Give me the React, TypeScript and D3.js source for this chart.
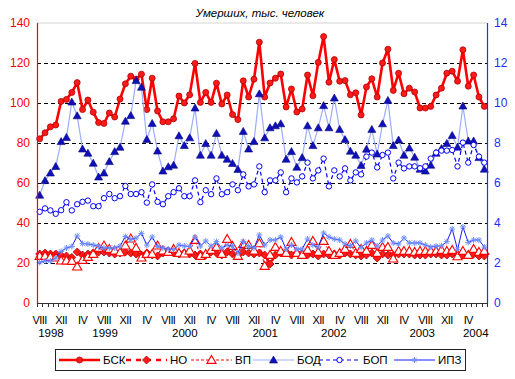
import React from "react";
import * as d3 from "d3";

// ---- data ----
const BSK = [
  82.1, 85.1, 88.1, 89, 100.8, 101.8, 105.3, 110.2, 96.7, 101.5, 95.4, 90.2, 89.8, 95, 93, 102, 109.6, 113.4, 111.9, 114.4, 96.7, 112.4,
  96, 90.6, 90.6, 92.1, 103.5, 100, 104.1, 119.8, 100.3, 105.3, 100.3, 109.9, 99.5, 104, 94.2, 91.7, 111.1, 103, 111.9, 130.4,
  103, 110, 112.4, 114.5, 98, 107, 95.5, 97, 114, 103.6, 120.3, 133.2, 110.4, 121.7, 110.9, 111.2, 104.1, 105.1, 94, 108, 112.1, 103,
  120, 126.9, 106.3, 114.9, 104.6, 107.4, 105.5, 97.5, 97.5, 98.3, 104, 107.4, 114.9, 115.9, 110.9, 126.6, 108.4, 114, 103, 98.3,
];
const NO = [
  24.5, 25, 24.5, 24.5, 24, 23.5, 22.8, 25.5, 24, 24.5,
  25, 25.5, 25.5, 25, 24.5, 25, 25.5, 25, 24.5, 24,
  25, 24, 23.5, 25, 26, 25, 24.5, 25, 24.5, 24,
  24.5, 24, 25.5, 25, 24, 25.5, 24.5, 24, 25.5, 25,
  24.5, 25, 24, 19.5, 24, 25, 25.5, 24, 25, 24.5,
  24, 24.5, 23.5, 24.5, 24, 24.5, 24, 25, 24.5, 24,
  23.5, 24, 25, 22.5, 24.5, 24, 24, 24.5, 24.5, 24.5,
  24, 24, 24, 24.5, 24.5, 24, 24, 24.5, 24.5, 24,
  24, 24.5, 23.5, 23.5,
];
const VP = [
  23.5, 23.5, 23, 22.7, 21.2, 21.2, 21, 18.2, 21.5, 23, 24.5, 27.5, 28.7, 27, 26.2, 25.3, 28.7, 32.2, 27.5, 22.7, 24.5,
  24.5, 28.7, 26.2, 25.5, 27, 25, 24.7, 26.2, 31.5, 23.5, 24.5, 26.5, 28, 24.5, 32, 28.5, 23.5, 29.5, 29, 26.2, 29.8,
  18.5, 24, 28, 26, 25, 30.5, 25, 24, 26.5, 31, 25.5, 31, 26, 24, 25, 27, 29.5, 25, 27, 26, 29,
  25, 28, 28, 22.2, 26, 26, 26, 25.5, 26, 26, 26, 26, 26.5, 26, 26.5, 23.3, 26, 24, 27, 25.5, 26,
];
const BOD = [
  5.39, 6.12, 6.5, 6.83, 8.07, 8.28, 10.05, 9.36, 7.7, 7.49, 6.99, 6.3, 6.5, 7.07, 7.57, 7.79, 9.09, 9.37, 11.12, 10.79, 8.18, 8.98,
  7.6, 6.6, 6.81, 6.89, 8.36, 7.87, 8.26, 9.75, 7.39, 7.97, 7.39, 8.48, 7.39, 7.19, 6.98, 6.68, 8.58, 7.7, 8.08, 10.46,
  8.26, 8.76, 8.86, 8.96, 7.19, 7.57, 6.79, 7.27, 8.86, 7.87, 8.76, 9.87, 8.76, 10.25, 8.68, 8.17, 7.59, 7.39, 6.88, 7.69, 8.68, 7.45,
  8.96, 10.13, 7.87, 8.15, 7.39, 7.75, 7.29, 6.69, 6.6, 6.89, 7.49, 7.72, 7.98, 8.38, 7.79, 9.85, 8.1, 8.1, 7.27, 6.69,
];
const BOP = [
  4.56, 4.73, 4.63, 4.46, 4.64, 5.04, 4.63, 4.94, 5.06, 5.12, 4.84, 4.84, 5.24, 5.45, 5.24, 5.34, 5.85, 5.45, 5.45, 5.54, 5.02, 5.93,
  5.06, 4.94, 5.34, 5.54, 5.74, 5.34, 5.34, 6.13, 5.04, 5.64, 5.44, 6.23, 5.44, 5.54, 5.93, 5.64, 6.43, 5.83, 5.93, 6.83,
  5.54, 6.13, 6.13, 6.53, 5.54, 6.23, 6.03, 6.33, 7.02, 6.23, 6.63, 7.22, 5.83, 6.63, 6.33, 6.73, 6.13, 6.53, 6.43, 7.32, 7.52, 6.78,
  7.4, 7.52, 6.23, 7.02, 6.73, 6.83, 6.83, 6.74, 6.83, 7.22, 7.52, 7.62, 7.62, 7.65, 6.83, 8.02, 7.02, 7.9, 7.32, 7.02,
];
const IPZ = [
  2.03, 2.1, 2.1, 2.25, 2.58, 2.75, 2.83, 3.35, 2.97, 2.95, 2.9, 2.82, 2.75, 2.75, 2.75, 2.85, 3.32, 3.18, 3.25, 3.48, 2.9,
  3.3, 2.83, 2.75, 2.7, 2.67, 2.9, 2.85, 2.83, 3.3, 2.85, 3.1, 2.85, 3.07, 2.75, 2.9, 2.83, 2.5, 3.07, 2.83, 2.75, 3.4,
  2.9, 3.15, 3.15, 3.3, 2.7, 2.9, 2.7, 2.7, 3.2, 2.9, 2.8, 3.5, 3.3, 3.2, 3.15, 2.95, 2.85, 3.1, 2.77, 3.0, 3.15,
  2.85, 3.15, 3.35, 3.0, 2.95, 3.25, 3.0, 3.0, 3.0, 2.9, 2.8, 2.85, 2.85, 3.07, 3.7, 2.67, 3.8, 3.03, 3.15, 3.15, 2.8,
];
const MONTH_LABELS = ["VIII", "XII", "IV", "VIII", "XII", "IV", "VIII", "XII", "IV", "VIII", "XII", "IV", "VIII", "XII", "IV", "VIII", "XII", "IV", "VIII", "XII", "IV"];
const YEAR_LABELS = ["1998", "1999", "2000", "2001", "2002", "2003", "2004"];
const YEAR_AT = [2.1, 12.2, 27.1, 42.1, 54.9, 71.4, 81.4];
const LEFT_TICKS = [0, 20, 40, 60, 80, 100, 120, 140];
const RIGHT_TICKS = [0, 2, 4, 6, 8, 10, 12, 14];
const SERIES_NAMES = ["БСК", "НО", "ВП", "БОД", "БОП", "ИПЗ"];
const TITLE = "Умерших, тыс. человек";

const W = 515, H = 379;
const L = 37, R = 487, T = 23, B = 303;
const FONT = "'Liberation Sans', Arial, sans-serif";

type Style = { stroke: string; width: number; dash?: string; marker: string; mFill: string; mStroke: string; axis: "l" | "r" };
const STYLES: Style[] = [
  { stroke: "#ff0000", width: 2.6, marker: "circle", mFill: "#ff1a1a", mStroke: "#b00000", axis: "l" },
  { stroke: "#ff0000", width: 2.6, dash: "5,5", marker: "diamond", mFill: "#ff1a1a", mStroke: "#b00000", axis: "l" },
  { stroke: "#ff0000", width: 1, dash: "3,2", marker: "triOpen", mFill: "#ffffff", mStroke: "#ff0000", axis: "l" },
  { stroke: "#9aadff", width: 1.2, marker: "triFill", mFill: "#1010b8", mStroke: "#000080", axis: "r" },
  { stroke: "#0000ff", width: 1.2, dash: "4,3", marker: "circOpen", mFill: "#ffffff", mStroke: "#0000ff", axis: "r" },
  { stroke: "#1a1aff", width: 1, marker: "star", mFill: "none", mStroke: "#7090ff", axis: "r" },
];

function Marker({ kind, x, y, fill, stroke }: { kind: string; x: number; y: number; fill: string; stroke: string }) {
  const t = `translate(${x},${y})`;
  switch (kind) {
    case "circle":
      return <circle cx={x} cy={y} r={3} fill={fill} stroke={stroke} strokeWidth={0.8} />;
    case "diamond":
      return <path transform={t} d="M0,-4L4,0L0,4L-4,0Z" fill={fill} stroke={stroke} strokeWidth={0.8} />;
    case "triOpen":
      return <path transform={t} d="M0,-4.6L4.6,3.4L-4.6,3.4Z" fill={fill} stroke={stroke} strokeWidth={1.1} />;
    case "triFill":
      return <path transform={t} d="M0,-4L4,3L-4,3Z" fill={fill} stroke={stroke} strokeWidth={0.6} />;
    case "circOpen":
      return <circle cx={x} cy={y} r={2.7} fill={fill} stroke={stroke} strokeWidth={1} />;
    default:
      return <path transform={t} d="M-3,0H3M0,-3V3M-2.2,-2.2L2.2,2.2M-2.2,2.2L2.2,-2.2" stroke={stroke} strokeWidth={1} fill="none" />;
  }
}

export default function App() {
  const data = [BSK, NO, VP, BOD, BOP, IPZ];
  const n = BSK.length;
  const x = d3.scaleBand<number>().domain(d3.range(n)).range([L, R]).padding(0);
  const bw = x.bandwidth();
  const cx = (i: number) => (x(i) as number) + bw / 2;
  const yl = d3.scaleLinear().domain([0, 140]).range([B, T]);
  const yr = d3.scaleLinear().domain([0, 14]).range([B, T]);
  const catPos = d3.scaleLinear().domain([0, 1]).range([L + bw / 2, L + bw * 1.5]);

  return (
    <svg width={W} height={H} style={{ position: "absolute", left: 0, top: 0, background: "#fff" }} fontFamily={FONT}>
      <text x={260} y={17} textAnchor="middle" fontSize={11.5} fontStyle="italic" fill="#000">{TITLE}</text>
      {/* grid */}
      <line x1={L} x2={R} y1={yl(140)} y2={yl(140)} stroke="#d4d4d4" strokeWidth={1} />
      {LEFT_TICKS.filter((v) => v > 0 && v < 140).map((v) => (
        <line key={v} x1={L} x2={R} y1={Math.round(yl(v)) + 0.5} y2={Math.round(yl(v)) + 0.5} stroke="#000" strokeWidth={1} strokeDasharray="4,3" />
      ))}
      {/* series */}
      {data.map((vals, si) => {
        const st = STYLES[si];
        const ys = st.axis === "l" ? yl : yr;
        const line = d3.line<number>().x((_, i) => cx(i)).y((v) => ys(v));
        return (
          <g key={si}>
            <path d={line(vals) || ""} fill="none" stroke={st.stroke} strokeWidth={st.width} strokeDasharray={st.dash} strokeLinejoin="round" />
            {vals.map((v, i) => (
              <Marker key={i} kind={st.marker} x={cx(i)} y={ys(v)} fill={st.mFill} stroke={st.mStroke} />
            ))}
          </g>
        );
      })}
      {/* axes */}
      <line x1={L + 0.5} x2={L + 0.5} y1={T} y2={B + 1} stroke="#ff0000" strokeWidth={1.2} />
      <line x1={R + 0.5} x2={R + 0.5} y1={T} y2={B + 1} stroke="#2a2aff" strokeWidth={1.2} />
      <line x1={L} x2={R} y1={B + 0.5} y2={B + 0.5} stroke="#333" strokeWidth={1} />
      {d3.range(n + 1).map((k) => {
        const xx = Math.round(L + k * bw) + 0.5;
        return <line key={k} x1={xx} x2={xx} y1={B} y2={B + 4} stroke="#333" strokeWidth={1} />;
      })}
      {LEFT_TICKS.map((v) => (
        <text key={v} x={30} y={yl(v)} dy="0.35em" textAnchor="end" fontSize={12} fill="#ff0000">{v}</text>
      ))}
      {RIGHT_TICKS.map((v) => (
        <text key={v} x={494} y={yr(v)} dy="0.35em" textAnchor="start" fontSize={12} fill="#2a2aff">{v}</text>
      ))}
      {MONTH_LABELS.map((m, k) => (
        <text key={k} x={cx(k * 4)} y={324} textAnchor="middle" fontSize={11} letterSpacing={-0.6} fill="#000">{m}</text>
      ))}
      {YEAR_LABELS.map((yv, k) => (
        <text key={yv} x={catPos(YEAR_AT[k])} y={337} textAnchor="middle" fontSize={11.5} fill="#000">{yv}</text>
      ))}
      {/* legend */}
      <rect x={55.5} y={349.5} width={410} height={21} fill="#fff" stroke="#222" strokeWidth={1} />
      {SERIES_NAMES.map((name, si) => {
        const st = STYLES[si];
        const starts = [59, 126, 191, 253, 319, 394];
        const x0 = starts[si];
        const ly = 360;
        return (
          <g key={name}>
            <line x1={x0} x2={x0 + 41} y1={ly} y2={ly} stroke={st.stroke} strokeWidth={st.width} strokeDasharray={st.dash} />
            <Marker kind={st.marker} x={x0 + 20.5} y={ly} fill={st.mFill} stroke={st.mStroke} />
            <text x={x0 + 44} y={ly} dy="0.36em" fontSize={11.5} fill="#000">{name}</text>
          </g>
        );
      })}
    </svg>
  );
}
